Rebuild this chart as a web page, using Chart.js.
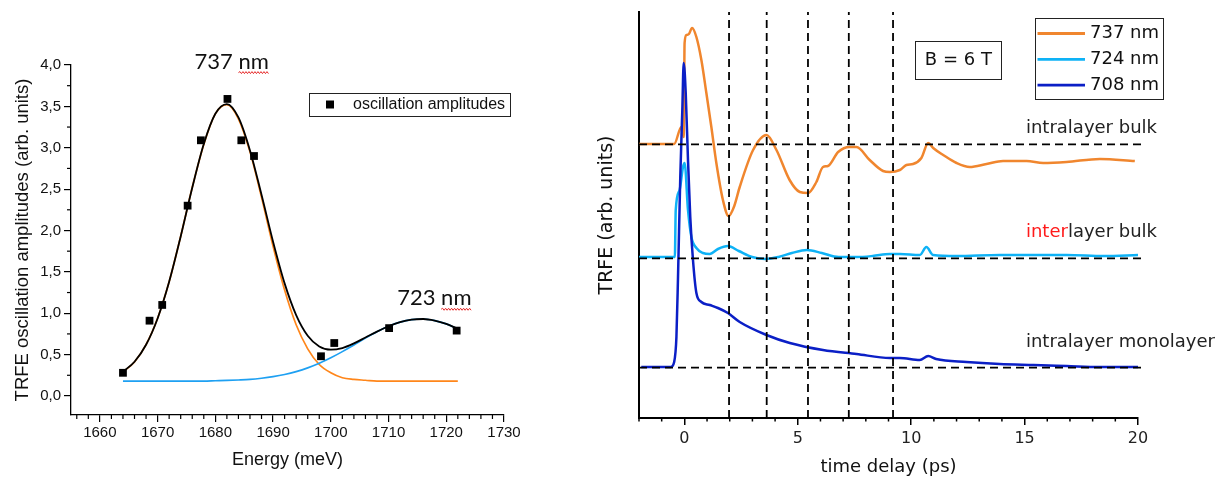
<!DOCTYPE html>
<html>
<head>
<meta charset="utf-8">
<script src="https://cdn.jsdelivr.net/npm/chart.js@4.4.0/dist/chart.umd.min.js"></script>
<style>
  html, body { margin: 0; padding: 0; background: #fff; }
  body { width: 1227px; height: 481px; position: relative; overflow: hidden; }
  #amp  { position: absolute; left: 0; top: 0; }
  #trfe { position: absolute; left: 560px; top: 0; }
</style>
</head>
<body>
<canvas id="amp" width="560" height="481"></canvas>
<canvas id="trfe" width="667" height="481"></canvas>
<script>
/* Two panels: fitted oscillation amplitudes (left) and TRFE traces vs delay
   (right). */

// ---- left panel: amplitudes vs energy ----
const ampEnergy = [1664.0, 1668.6, 1670.8, 1675.2, 1677.5, 1682.1, 1684.5, 1686.7, 1698.3, 1700.6, 1710.1, 1721.8];
const ampValue  = [0.28, 0.91, 1.10, 2.30, 3.09, 3.59, 3.09, 2.90, 0.48, 0.64, 0.82, 0.79];

const fitEnergy  = [1664, 1666, 1668, 1670, 1672, 1674, 1676, 1678, 1680, 1682, 1684, 1686, 1688, 1690, 1692,
                    1694, 1696, 1698, 1700, 1702, 1704, 1706, 1708, 1710, 1712, 1714, 1716, 1718, 1720, 1722];
const fitPeak737 = [0.29, 0.41, 0.62, 0.94, 1.38, 1.93, 2.52, 3.04, 3.41, 3.52, 3.35, 2.95, 2.40, 1.81, 1.28,
                    0.86, 0.57, 0.38, 0.28, 0.22, 0.20, 0.19, 0.18, 0.18, 0.18, 0.18, 0.18, 0.18, 0.18, 0.18];
const fitPeak723 = [0.18, 0.18, 0.18, 0.18, 0.18, 0.18, 0.18, 0.18, 0.184, 0.188, 0.193, 0.20, 0.214, 0.233, 0.259,
                    0.294, 0.339, 0.395, 0.461, 0.536, 0.617, 0.699, 0.776, 0.843, 0.893, 0.923, 0.930, 0.911, 0.871, 0.811];
const fitSum     = [0.294, 0.414, 0.619, 0.937, 1.380, 1.928, 2.517, 3.046, 3.411, 3.528, 3.366, 2.968, 2.432, 1.865, 1.361,
                    0.978, 0.728, 0.599, 0.559, 0.579, 0.635, 0.706, 0.778, 0.843, 0.893, 0.923, 0.930, 0.911, 0.871, 0.811];

const energyTicks = [1660, 1670, 1680, 1690, 1700, 1710, 1720, 1730];
const ampTicks    = [0, 0.5, 1, 1.5, 2, 2.5, 3, 3.5, 4];

// ---- right panel: TRFE traces vs time delay ----
const t737 = [-2, -0.45, -0.13, -0.03, 0.01, 0.09, 0.2, 0.34, 0.53, 0.75, 0.97, 1.19, 1.41, 1.70, 1.95, 2.2, 2.44,
              3.03, 3.62, 4.06, 4.64, 5.09, 5.45, 5.82, 6.11, 6.33, 6.78, 7.29, 7.59, 8.17, 8.76, 9.06, 9.5, 9.79,
              10.08, 10.45, 10.75, 10.97, 11.41, 12.0, 12.58, 13.32, 14.05, 15.09, 15.82, 16.85, 18.32, 19.86];
const y737 = [2.74, 2.74, 2.91, 2.81, 3.75, 3.83, 3.84, 3.90, 3.81, 3.58, 3.25, 2.91, 2.55, 2.18, 2.02, 2.12, 2.31,
              2.68, 2.83, 2.68, 2.38, 2.26, 2.25, 2.36, 2.51, 2.52, 2.66, 2.71, 2.71, 2.58, 2.47, 2.46, 2.48, 2.53,
              2.54, 2.60, 2.75, 2.70, 2.63, 2.55, 2.51, 2.54, 2.57, 2.57, 2.55, 2.56, 2.59, 2.57];

const t724 = [-2, -0.42, -0.38, -0.21, -0.06, 0.01, 0.16, 0.31, 0.53, 0.82, 1.12, 1.48, 1.92, 2.4, 2.99, 3.57, 4.15,
              4.74, 5.4, 6.06, 6.8, 7.6, 8.3, 9.06, 9.5, 10.38, 10.67, 10.97, 12, 13.9, 16.85, 18.5, 20];
const y724 = [1.61, 1.61, 2.08, 2.28, 2.51, 2.55, 2.08, 1.81, 1.70, 1.65, 1.64, 1.69, 1.72, 1.67, 1.61, 1.59, 1.61,
              1.65, 1.68, 1.65, 1.61, 1.61, 1.62, 1.64, 1.64, 1.63, 1.71, 1.63, 1.62, 1.63, 1.63, 1.62, 1.63];

const t708 = [-1.9, -0.6, -0.45, -0.35, -0.28, -0.18, -0.09, -0.03, 0.06, 0.16, 0.26, 0.38, 0.53, 0.75, 1.12, 1.48,
              1.92, 2.44, 3.62, 4.65, 6.11, 7.59, 9.06, 9.5, 10.38, 10.75, 11.1, 12.44, 13.9, 15.4, 16.85, 18.3, 20];
const y708 = [0.51, 0.51, 0.56, 0.81, 1.41, 2.41, 3.08, 3.55, 3.25, 2.58, 2.01, 1.58, 1.25, 1.16, 1.13, 1.10,
              1.05, 0.96, 0.83, 0.75, 0.68, 0.64, 0.60, 0.60, 0.58, 0.62, 0.59, 0.56, 0.54, 0.53, 0.52, 0.51, 0.51];

const baseLevels   = [2.737, 1.597, 0.503];   // dashed zero lines of each trace
const baselineSpan = [-2, 20.2];
const phaseDelays  = [1.97, 3.63, 5.45, 7.25, 9.2];
const delayTicks   = [0, 5, 10, 15, 20];
const delayRange   = [-2, 20];
const trfeRange    = [0, 4.06];

const pts = (xs, ys) => xs.map((x, i) => ({ x, y: ys[i] }));
const minorBetween = (lo, hi, step, majors) => {
  const out = [];
  for (let v = lo; v <= hi + 1e-9; v += step) {
    const r = Math.round(v * 1000) / 1000;
    if (!majors.some(m => Math.abs(m - r) < 1e-6)) out.push(r);
  }
  return out;
};

// short minor tick marks, placed through the scales
const minorTicks = {
  id: 'minorTicks',
  afterDraw(chart, args, o) {
    const ctx = chart.ctx;
    ctx.save();
    ctx.strokeStyle = '#000';
    ctx.lineWidth = o.width;
    Object.keys(o.scales).forEach(id => {
      const s = chart.scales[id];
      o.scales[id].forEach(v => {
        const p = s.getPixelForValue(v);
        ctx.beginPath();
        if (s.isHorizontal()) { ctx.moveTo(p, s.top); ctx.lineTo(p, s.top + o.length); }
        else { ctx.moveTo(s.right, p); ctx.lineTo(s.right - o.length, p); }
        ctx.stroke();
      });
    });
    ctx.restore();
  }
};

function squiggle(ctx, x0, x1, y) {
  ctx.save();
  ctx.strokeStyle = '#e52a2a';
  ctx.lineWidth = 1;
  ctx.beginPath();
  ctx.moveTo(x0, y);
  let up = true;
  for (let x = x0 + 1.5; x <= x1; x += 1.5) { ctx.lineTo(x, y + (up ? -1 : 1)); up = !up; }
  ctx.stroke();
  ctx.restore();
}

// free text, anchored in data coordinates
const notes = {
  id: 'notes',
  afterDraw(chart, args, o) {
    const { ctx, scales: { x, y } } = chart;
    ctx.save();
    ctx.textBaseline = 'middle';
    (o.items || []).forEach(n => {
      ctx.font = n.font;
      let px = x.getPixelForValue(n.x);
      const py = y.getPixelForValue(n.y);
      const full = ctx.measureText(n.parts.map(p => p.text).join('')).width;
      if (n.box) {
        ctx.strokeStyle = '#222';
        ctx.lineWidth = 1;
        ctx.strokeRect(Math.round(px - n.box[0] / 2) + 0.5, Math.round(py - n.box[1] / 2) + 0.5, n.box[0], n.box[1]);
        px -= full / 2;
      }
      n.parts.forEach(p => {
        const w = ctx.measureText(p.text).width;
        ctx.fillStyle = p.color || '#111';
        ctx.fillText(p.text, px, py);
        if (p.squiggle) squiggle(ctx, px, px + w, py + n.size * 0.36 + 3);
        px += w;
      });
    });
    ctx.restore();
  }
};

// framed legend (pixel placement, like the original inset boxes)
const boxLegend = {
  id: 'boxLegend',
  afterDraw(chart, args, o) {
    const ctx = chart.ctx;
    const items = chart.data.datasets.filter(d => d.inLegend);
    ctx.save();
    ctx.strokeStyle = '#222';
    ctx.lineWidth = 1;
    ctx.strokeRect(o.x + 0.5, o.y + 0.5, o.w, o.h);
    ctx.font = o.font;
    ctx.textBaseline = 'middle';
    items.forEach((d, i) => {
      const cy = o.row0 + i * o.rowGap;
      if (d.showLine) {
        ctx.strokeStyle = d.borderColor;
        ctx.lineWidth = o.sampleWidth;
        ctx.beginPath();
        ctx.moveTo(o.sample[0], cy);
        ctx.lineTo(o.sample[1], cy);
        ctx.stroke();
      } else {
        const s = o.marker, mid = (o.sample[0] + o.sample[1]) / 2;
        ctx.fillStyle = d.backgroundColor;
        ctx.fillRect(mid - s / 2, cy - s / 2, s, s);
      }
      ctx.fillStyle = '#111';
      ctx.fillText(d.label, o.textX, cy);
    });
    ctx.restore();
  }
};

const ARIAL = "'Liberation Sans', Arial, sans-serif";
const DEJAVU = "'DejaVu Sans', Verdana, sans-serif";

// ---------------- left chart ----------------
new Chart(document.getElementById('amp'), {
  type: 'scatter',
  plugins: [minorTicks, notes, boxLegend],
  data: {
    datasets: [
      { label: 'oscillation amplitudes', data: pts(ampEnergy, ampValue), pointStyle: 'rect', pointRadius: 5.5,
        backgroundColor: '#000', borderColor: '#000', borderWidth: 0, order: 0, inLegend: true },
      { label: 'sum', data: pts(fitEnergy, fitSum), showLine: true, pointRadius: 0, borderColor: '#000',
        borderWidth: 1.8, cubicInterpolationMode: 'monotone', order: 1 },
      { label: '723', data: pts(fitEnergy, fitPeak723), showLine: true, pointRadius: 0, borderColor: '#1ea0f2',
        borderWidth: 1.7, cubicInterpolationMode: 'monotone', order: 2 },
      { label: '737', data: pts(fitEnergy, fitPeak737), showLine: true, pointRadius: 0, borderColor: '#ff861a',
        borderWidth: 1.7, cubicInterpolationMode: 'monotone', order: 3 },
    ]
  },
  options: {
    responsive: false,
    animation: false,
    events: [],
    layout: { padding: { left: 0, top: 65, right: 56, bottom: 0 } },
    font: { family: ARIAL },
    scales: {
      x: {
        type: 'linear', min: 1655, max: 1730,
        afterFit: s => { s.height = 66; },
        afterBuildTicks: s => { s.ticks = energyTicks.map(v => ({ value: v })); },
        grid: { display: true, drawOnChartArea: false, tickLength: 7, color: '#000', lineWidth: 1.2 },
        border: { display: true, color: '#000', width: 1.3 },
        ticks: { color: '#111', font: { family: ARIAL, size: 15 }, padding: 2, maxRotation: 0,
                 callback: v => String(v) },
        title: { display: true, text: 'Energy (meV)', color: '#111', font: { family: ARIAL, size: 18 },
                 padding: { top: 0, bottom: 10 } }
      },
      y: {
        type: 'linear', min: -0.23, max: 4,
        afterFit: s => { s.width = 71; },
        afterBuildTicks: s => { s.ticks = ampTicks.map(v => ({ value: v })); },
        grid: { display: true, drawOnChartArea: false, tickLength: 7, color: '#000', lineWidth: 1.2 },
        border: { display: true, color: '#000', width: 1.3 },
        ticks: { color: '#111', font: { family: ARIAL, size: 15 }, padding: 3,
                 callback: v => v.toFixed(1).replace('.', ',') },
        title: { display: true, text: 'TRFE oscillation amplitudes (arb. units)', color: '#111',
                 font: { family: ARIAL, size: 18.5 }, padding: { top: 12, bottom: 0 } }
      }
    },
    plugins: {
      legend: { display: false },
      tooltip: { enabled: false },
      minorTicks: { width: 1.2, length: 4, scales: {
        x: minorBetween(1656, 1728, 2, energyTicks),
        y: minorBetween(0.25, 3.75, 0.25, ampTicks)
      } },
      notes: { items: [
        { x: 1676.4, y: 4.04, font: `22px Lato, ${ARIAL}`, size: 22,
          parts: [{ text: '737 ' }, { text: 'nm', squiggle: true }] },
        { x: 1711.5, y: 1.18, font: `22px Lato, ${ARIAL}`, size: 22,
          parts: [{ text: '723 ' }, { text: 'nm', squiggle: true }] }
      ] },
      boxLegend: { x: 309, y: 93, w: 201, h: 23, row0: 104.5, rowGap: 0, sample: [320, 340], marker: 8,
                   sampleWidth: 2, textX: 353, font: `16px ${ARIAL}` }
    }
  }
});

// ---------------- right chart ----------------
const dashStyle = { showLine: true, pointRadius: 0, borderColor: '#000', borderWidth: 1.8,
                    borderDash: [8, 5], clip: false, order: 0 };

new Chart(document.getElementById('trfe'), {
  type: 'scatter',
  plugins: [minorTicks, notes, boxLegend],
  data: {
    datasets: [
      { label: '737 nm', data: pts(t737, y737), showLine: true, pointRadius: 0, borderColor: '#f0862e',
        borderWidth: 2.5, cubicInterpolationMode: 'monotone', order: 3, inLegend: true },
      { label: '724 nm', data: pts(t724, y724), showLine: true, pointRadius: 0, borderColor: '#0eb2f6',
        borderWidth: 2.5, cubicInterpolationMode: 'monotone', order: 2, inLegend: true },
      { label: '708 nm', data: pts(t708, y708), showLine: true, pointRadius: 0, borderColor: '#0b1fc6',
        borderWidth: 2.5, cubicInterpolationMode: 'monotone', order: 1, inLegend: true },
      ...baseLevels.map(b => ({ ...dashStyle, data: baselineSpan.map(x => ({ x, y: b })) })),
      ...phaseDelays.map(t => ({ ...dashStyle, data: trfeRange.map(y => ({ x: t, y })) }))
    ]
  },
  options: {
    responsive: false,
    animation: false,
    events: [],
    layout: { padding: { left: 0, top: 12, right: 89, bottom: 0 } },
    font: { family: DEJAVU },
    scales: {
      x: {
        type: 'linear', min: delayRange[0], max: delayRange[1],
        afterFit: s => { s.height = 63; },
        afterBuildTicks: s => { s.ticks = delayTicks.map(v => ({ value: v })); },
        grid: { display: true, drawOnChartArea: false, tickLength: 7, color: '#000', lineWidth: 1.5 },
        border: { display: true, color: '#000', width: 2 },
        ticks: { color: '#222', font: { family: DEJAVU, size: 16 }, padding: 4, maxRotation: 0 },
        title: { display: true, text: 'time delay (ps)', color: '#111', font: { family: DEJAVU, size: 18 },
                 padding: { top: 0, bottom: 3 } }
      },
      y: {
        type: 'linear', min: trfeRange[0], max: trfeRange[1],
        afterFit: s => { s.width = 79; },
        grid: { display: false },
        border: { display: true, color: '#000', width: 2 },
        ticks: { display: false },
        title: { display: true, text: 'TRFE (arb. units)', color: '#111', font: { family: DEJAVU, size: 19 },
                 padding: { top: 36, bottom: 0 } }
      }
    },
    plugins: {
      legend: { display: false },
      tooltip: { enabled: false },
      minorTicks: { width: 1.5, length: 3.5, scales: { x: minorBetween(-2, 19, 1, delayTicks) } },
      notes: { items: [
        { x: 12.08, y: 3.575, font: `18px ${DEJAVU}`, size: 18, box: [86, 38], parts: [{ text: 'B = 6 T' }] },
        { x: 15.06, y: 2.90, font: `18px ${DEJAVU}`, size: 18, parts: [{ text: 'intralayer bulk', color: '#222' }] },
        { x: 15.06, y: 1.86, font: `18px ${DEJAVU}`, size: 18,
          parts: [{ text: 'inter', color: '#ff1a1a' }, { text: 'layer bulk', color: '#222' }] },
        { x: 15.06, y: 0.753, font: `18px ${DEJAVU}`, size: 18, parts: [{ text: 'intralayer monolayer', color: '#222' }] }
      ] },
      boxLegend: { x: 475, y: 18, w: 128, h: 81, row0: 33.5, rowGap: 25.8, sample: [477.5, 525], marker: 8,
                   sampleWidth: 2.8, textX: 530, font: `18px ${DEJAVU}` }
    }
  }
});
</script>
</body>
</html>
